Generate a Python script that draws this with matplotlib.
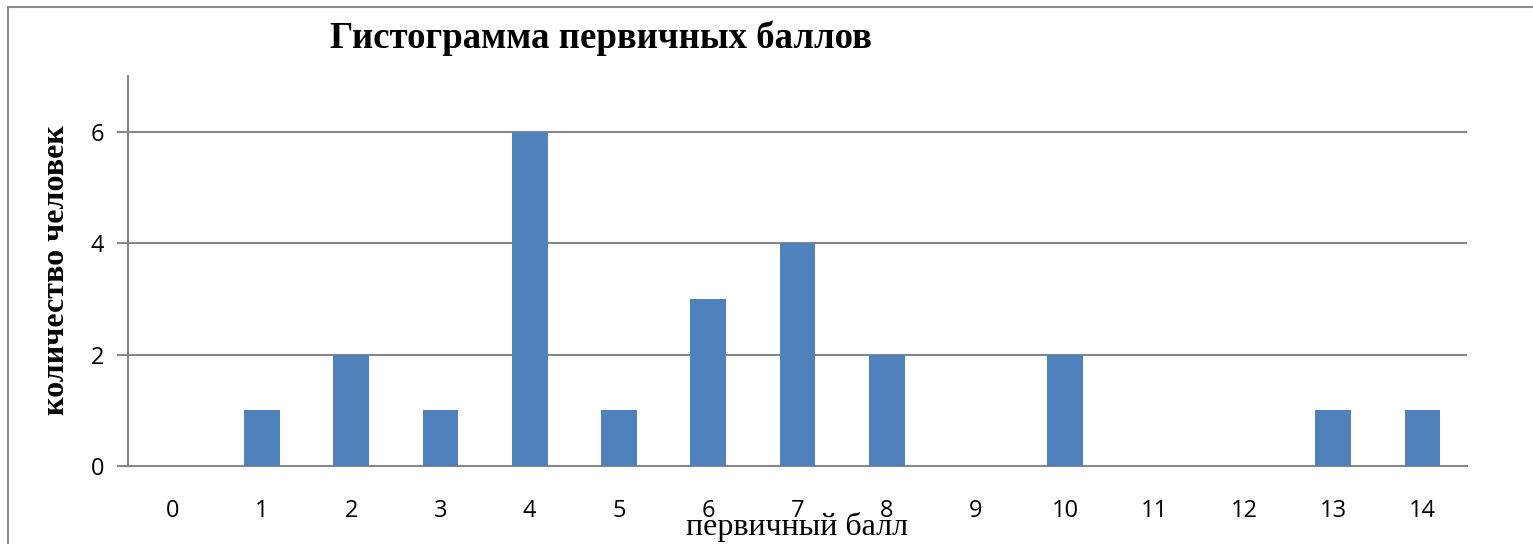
import matplotlib.pyplot as plt
from matplotlib.patches import Rectangle

scores = ["0", "1", "2", "3", "4", "5", "6", "7", "8", "9", "10", "11", "12", "13", "14"]
counts = [0, 1, 2, 1, 6, 1, 3, 4, 2, 0, 2, 0, 0, 1, 1]
y_ticks = [0, 2, 4, 6]

W, H = 1533, 544
fig = plt.figure(figsize=(W / 100, H / 100), dpi=100)
ax = fig.add_axes([128 / W, 1 - 466 / H, (1467 - 128) / W, (466 - 76) / H])

grid_col = "#878787"
x = list(range(len(scores)))
ax.bar(x, counts, width=0.4, color="#4F81BD", zorder=3)

ax.set_xlim(-0.5, len(scores) - 0.5)
ax.set_ylim(0, 7)
ax.set_yticks(y_ticks)
ax.set_xticks(x)
ax.set_xticklabels(scores)
for yv in y_ticks[1:]:
    ax.axhline(yv, color=grid_col, lw=1.5, zorder=1)

for s in ["top", "right"]:
    ax.spines[s].set_visible(False)
ax.spines["left"].set_color(grid_col)
ax.spines["left"].set_linewidth(1.5)
ax.spines["bottom"].set_color(grid_col)
ax.spines["bottom"].set_linewidth(1.5)
ax.tick_params(axis="y", length=8, width=1.5, color=grid_col, pad=9,
               labelsize=17)
ax.tick_params(axis="x", length=0, pad=23.5, labelsize=17)
for lab in ax.get_xticklabels() + ax.get_yticklabels():
    lab.set_fontfamily("Open Sans")

fig.text(601 / W, 1 - 38 / H, "Гистограмма первичных баллов",
         ha="center", va="center", family="Liberation Serif",
         fontweight="bold", fontsize=26.5)
fig.text(57 / W, 1 - 270 / H, "количество человек", rotation=90,
         ha="center", va="center", family="Liberation Serif",
         fontweight="bold", fontsize=23)
fig.text(797 / W, 1 - 527 / H, "первичный балл",
         ha="center", va="center", family="Liberation Serif", fontsize=23)

# chart border
fig.patches.append(Rectangle((8 / W, -0.05), 1.1, 1 - 7 / H + 0.05,
                             transform=fig.transFigure, fill=False,
                             edgecolor="#8c8c8c", lw=1.5))

fig.savefig("out.png", dpi=100)
